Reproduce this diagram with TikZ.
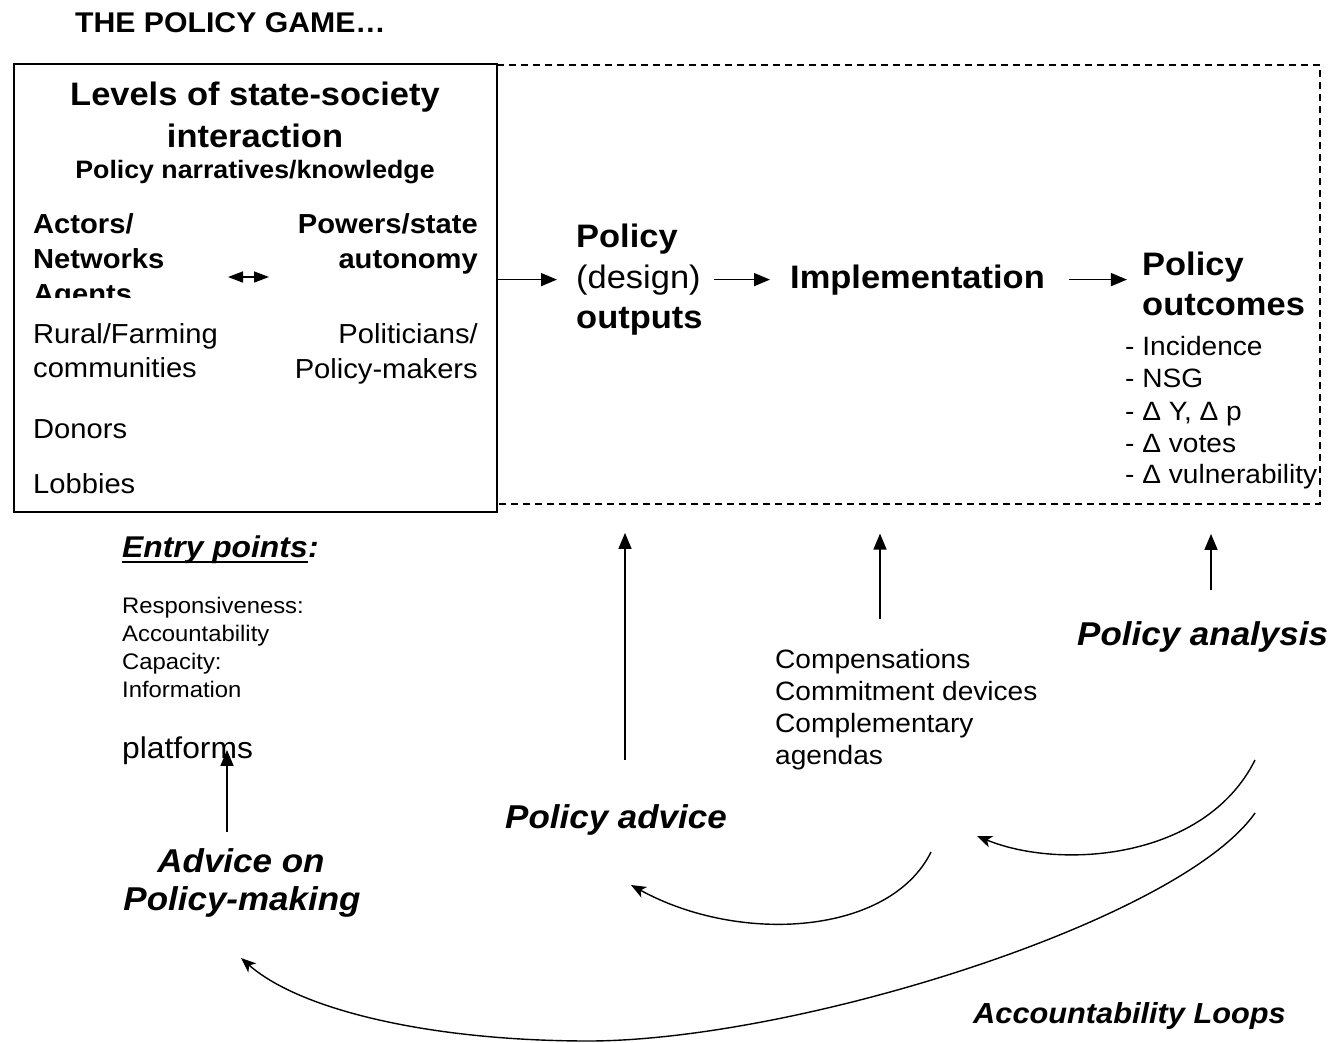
\documentclass[tikz,border=0pt]{standalone}
\usepackage{fontspec}
\setmainfont{Liberation Sans}[FakeStretch=1.06]
\usepackage{tikz}
\usetikzlibrary{calc}
\usetikzlibrary{arrows.meta}
\usetikzlibrary{positioning}

\newcommand\fsz[1]{\fontsize{#1}{#1}\selectfont}

\tikzset{
	lbl/.style={inner sep=0pt, anchor=base west},
	lblr/.style={inner sep=0pt, anchor=base east},
	lblc/.style={inner sep=0pt, anchor=base},
	arr/.style={line width=1.5pt, -{Triangle[length=16pt,width=13pt]}},
	dblarr/.style={line width=1.5pt, {Triangle[length=15pt,width=11pt]}-{Triangle[length=15pt,width=11pt]}},
	backarc/.style={line width=1.4pt, -{Stealth[length=15pt,width=12pt,inset=4pt]}},
	dashbox/.style={line width=1.5pt, dash pattern=on 7pt off 5pt}
}

\begin{document}
\begin{tikzpicture}[x=1pt,y=-1pt]
		\useasboundingbox (0,0) rectangle (1329,1042);
		\node[lbl, font=\fsz{28.5}\bfseries] (title) at (75,32) {THE POLICY GAME…};

		\draw[dashbox] (497,65) -- (1320,65) -- (1320,504) -- (497,504);
		\draw[line width=2.5pt] (14,64) rectangle (497,512);

		\node[lblc, font=\fsz{32.5}\bfseries] (lev1) at (255,105) {Levels of state-society};
		\node[lblc, font=\fsz{32.5}\bfseries] (lev2) at (255,147) {interaction};
		\node[lblc, font=\fsz{25.2}\bfseries] (narr) at (255,178) {Policy narratives/knowledge};

		\node[lbl, font=\fsz{27.5}\bfseries] (act1) at (33,233) {Actors/};
		\node[lbl, font=\fsz{27.5}\bfseries] (act2) at (33,268) {Networks};
		\begin{scope}
			\clip (14,64) rectangle (497,297);
			\node[lbl, font=\fsz{27.5}\bfseries] (act3) at (33,303) {Agents};
		\end{scope}
		\node[lblr, font=\fsz{27.5}\bfseries] (pow1) at (478,233) {Powers/state};
		\node[lblr, font=\fsz{27.5}\bfseries] (pow2) at (478,268) {autonomy};
		\coordinate (lr1) at (228,277); \coordinate (lr2) at (269,277);
		\draw[dblarr] (lr1) -- (lr2);

		\node[lbl, font=\fsz{27.5}] (rur1) at (33,343) {Rural/Farming};
		\node[lbl, font=\fsz{27.5}] (rur2) at (33,377) {communities};
		\node[lblr, font=\fsz{27.5}] (pol1) at (478,343) {Politicians/};
		\node[lblr, font=\fsz{27.5}] (pol2) at (478,378) {Policy-makers};
		\node[lbl, font=\fsz{27.5}] (donors) at (33,438) {Donors};
		\node[lbl, font=\fsz{27.5}] (lobbies) at (33,493) {Lobbies};

		\node[lbl, font=\fsz{32.5}\bfseries] (out1) at (576,247) {Policy};
		\node[lbl, font=\fsz{32.5}] (design) at (576,288) {(design)};
		\node[lbl, font=\fsz{32.5}\bfseries] (out3) at (576,328) {outputs};
		\node[lbl, font=\fsz{32.5}\bfseries] (impl) at (790,288) {Implementation};
		\node[lbl, font=\fsz{32.5}\bfseries] (res1) at (1142,275) {Policy};
		\node[lbl, font=\fsz{32.5}\bfseries] (res2) at (1142,315) {outcomes};
		\node[lbl, font=\fsz{26.5}] (inc1) at (1125,355) {- Incidence};
		\node[lbl, font=\fsz{26.5}] (inc2) at (1125,387) {- NSG};
		\node[lbl, font=\fsz{26.5}] (inc3) at (1125,420) {- Δ Y, Δ p};
		\node[lbl, font=\fsz{26.5}] (inc4) at (1125,452) {- Δ votes};
		\node[lbl, font=\fsz{26.5}] (inc5) at (1125,483) {- Δ vulnerability};

		\coordinate (boxE) at (497,279);
		\draw[arr] (boxE |- design.west) -- ([xshift=-19pt]design.west);
		\draw[arr] ([xshift=13pt]design.east) -- ([xshift=-20pt]impl.west);
		\draw[arr] ([xshift=24pt]impl.east) -- ++(58,0);

		\node[lbl, font=\fsz{30}\bfseries\itshape] (entry) at (122,557) {Entry points};
		\node[lbl, font=\fsz{30}\bfseries\itshape] (entrycol) at (entry.base east) {:};
		\draw[line width=2pt] ([yshift=-5pt]entry.base west) -- ([yshift=-5pt]entry.base east);
		\node[lbl, font=\fsz{22.5}] (ep1) at (122,613) {Responsiveness:};
		\node[lbl, font=\fsz{22.5}] (ep2) at (122,641) {Accountability};
		\node[lbl, font=\fsz{22.5}] (ep3) at (122,669) {Capacity:};
		\node[lbl, font=\fsz{22.5}] (ep4) at (122,697) {Information};
		\node[lbl, font=\fsz{30}] (platf) at (122,758) {platforms};

		\node[lblc, font=\fsz{33}\bfseries\itshape] (adv1) at (241,872) {Advice on};
		\node[lblc, font=\fsz{33}\bfseries\itshape] (adv2) at (242,910) {Policy-making};
		\draw[arr] ([shift={(-14pt,16pt)}]adv1.north) -- ++(0,-82);

		\node[lblc, font=\fsz{33}\bfseries\itshape] (advice) at (616,828) {Policy advice};
		\draw[arr] ([shift={(9pt,44pt)}]advice.north) -- ++(0,-227);

		\node[lbl, font=\fsz{26.5}] (comp1) at (775,668) {Compensations};
		\node[lbl, font=\fsz{26.5}] (comp2) at (775,700) {Commitment devices};
		\node[lbl, font=\fsz{26.5}] (comp3) at (775,732) {Complementary};
		\node[lbl, font=\fsz{26.5}] (comp4) at (775,764) {agendas};
		\draw[arr] ([shift={(105pt,30pt)}]comp1.north west) -- ++(0,-85);

		\node[lbl, font=\fsz{33}\bfseries\itshape] (analysis) at (1077,645) {Policy analysis};
		\draw[arr] ([shift={(134pt,31pt)}]analysis.north west) -- ++(0,-56);

		\node[lbl, font=\fsz{29}\bfseries\itshape] (loops) at (973,1023) {Accountability Loops};

		\coordinate (arcA) at (1255,760);
		\coordinate (arcB) at (931,852);
		\coordinate (arcC) at (1255,813);
		\draw[backarc] (arcA) .. controls (1205,860) and (1060,870) .. (977,836);
		\draw[backarc] (arcB) .. controls (890,935) and (740,945) .. (631,885);
		\draw[backarc] (arcC) .. controls (1180,920) and (800,1040) .. (590,1041) .. controls (430,1041) and (300,1010) .. (241,958);
	\end{tikzpicture}
\end{document}
